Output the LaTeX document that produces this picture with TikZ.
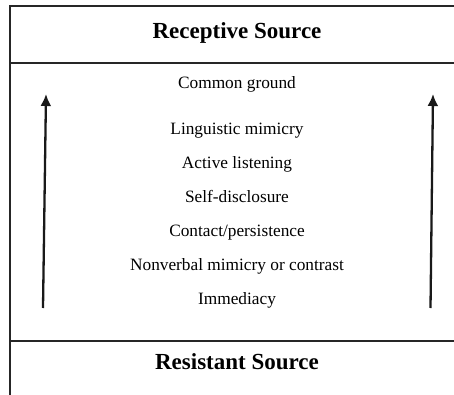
\documentclass[tikz,border=0pt]{standalone}
\usepackage{fontspec}
\setmainfont{Liberation Serif}
\usetikzlibrary{arrows.meta,positioning}
\tikzset{
head/.style = {font=\fontsize{23}{26}\selectfont\bfseries, inner sep=0pt, text height=16pt, text depth=5pt},
item/.style = {font=\fontsize{17.3}{20}\selectfont, inner sep=0pt, text height=12pt, text depth=4pt},
frame/.style = {line width=1.4pt, draw=black!85},
rise/.style = {line width=2.3pt, -{Latex[length=12pt,width=11pt]}, draw=black!90},
tmp/.style  = {coordinate}
}
\begin{document}
\begin{tikzpicture}[x=1pt, y=-1pt, node distance=33.8pt]
	\useasboundingbox (0,0) rectangle (454,395);
	\node[tmp] (tl) at (10,6) {};
	\node[tmp] (tr) at (454,6) {};
	\node[tmp] (bl) at (10,395) {};
	\node[tmp] (ml) at (10,63) {};
	\node[tmp] (mr) at (454,63) {};
	\node[tmp] (nl) at (10,341) {};
	\node[tmp] (nr) at (454,341) {};
	\node[head] (recept) at (237,33.5) {Receptive Source};
	\node[head] (resist) at (237,363.5) {Resistant Source};
	\node[item] (common) at (237,85) {Common ground};
	\node[item] (ling) at (237,131) {Linguistic mimicry};
	\node[item, below of=ling] (active) {Active listening};
	\node[item, below of=active] (self) {Self-disclosure};
	\node[item, below of=self] (contact) {Contact/persistence};
	\node[item, below of=contact] (nonverb) {Nonverbal mimicry or contrast};
	\node[item, below of=nonverb] (immed) {Immediacy};
	\node[tmp] (lbot) at (43,308) {};
	\node[tmp] (ltop) at (46,94) {};
	\node[tmp] (rbot) at (430.5,308) {};
	\node[tmp] (rtop) at (433,94) {};
	\draw[frame] (tr) -- (tl) -- (bl);
	\draw[frame] (ml) -- (mr);
	\draw[frame] (nl) -- (nr);
	\draw[rise] (lbot) -- (ltop);
	\draw[rise] (rbot) -- (rtop);
\end{tikzpicture}
\end{document}
